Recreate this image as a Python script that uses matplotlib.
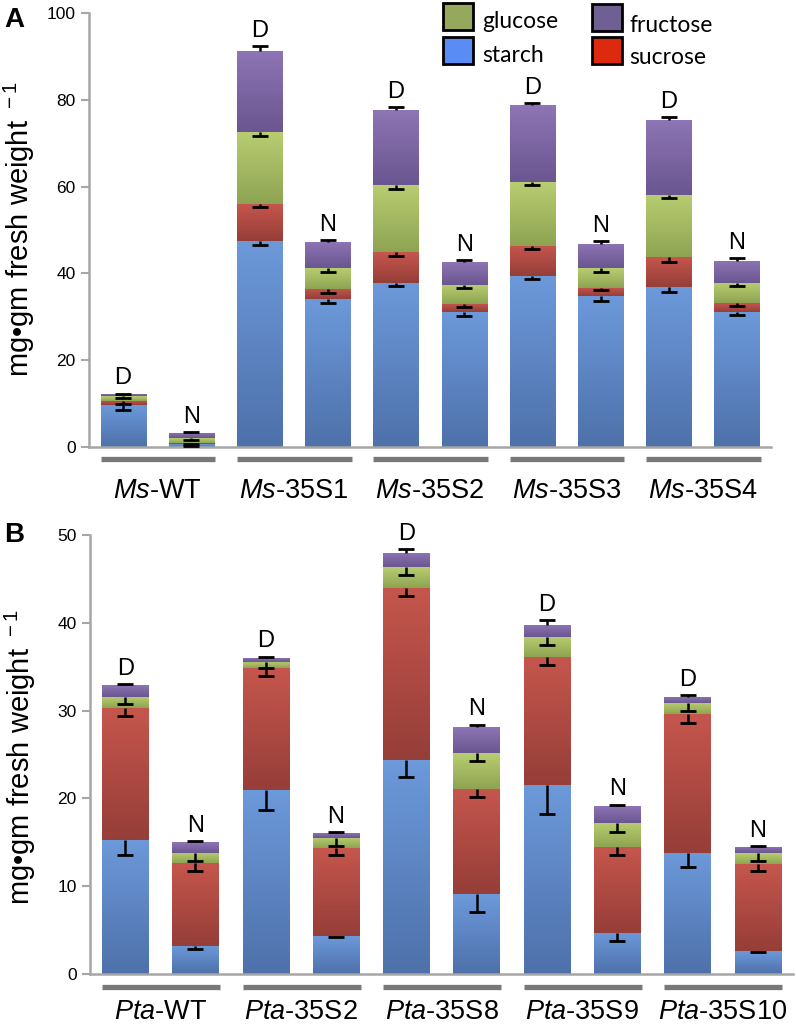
import numpy as np
import matplotlib

matplotlib.use("Agg")
import matplotlib.pyplot as plt
from matplotlib.colors import LinearSegmentedColormap
from matplotlib.patches import Rectangle
from matplotlib.transforms import blended_transform_factory

plt.rcParams["font.family"] = ["Liberation Sans", "DejaVu Sans"]
plt.rcParams["mathtext.fontset"] = "custom"
plt.rcParams["mathtext.rm"] = "Liberation Sans"
plt.rcParams["mathtext.it"] = "Liberation Sans:italic"

# ---- data, panel A (Medicago), bars ordered D, N per line ----
groups_A = ["Ms", "Ms", "Ms", "Ms", "Ms"]
lines_A = ["WT", "35S1", "35S2", "35S3", "35S4"]
starch_A = [9.7, 0.6, 47.5, 34.0, 37.9, 31.0, 39.4, 34.7, 36.8, 31.1]
sucrose_A = [1.0, 0.4, 8.5, 2.5, 7.1, 2.0, 7.0, 2.0, 6.9, 2.0]
glucose_A = [1.0, 1.0, 16.5, 4.7, 15.3, 4.4, 14.7, 4.5, 14.4, 4.7]
fructose_A = [0.5, 1.3, 18.8, 6.1, 17.4, 5.3, 17.6, 5.6, 17.3, 5.1]
starch_err_A = [1.2, 0.3, 0.9, 0.8, 0.8, 0.9, 0.7, 1.0, 1.0, 0.7]
sucrose_err_A = [0.9, 0.3, 0.6, 1.0, 0.9, 0.8, 0.8, 0.6, 1.0, 0.7]
glucose_err_A = [0.5, 0.3, 0.8, 0.9, 0.8, 0.8, 0.8, 0.8, 0.7, 0.8]
fructose_err_A = [0.1, 0.1, 1.0, 0.3, 0.7, 0.3, 0.6, 0.6, 0.7, 0.6]

# ---- data, panel B (Pinus) ----
groups_B = ["Pta", "Pta", "Pta", "Pta", "Pta"]
lines_B = ["WT", "35S2", "35S8", "35S9", "35S10"]
starch_B = [15.3, 3.2, 21.0, 4.3, 24.4, 9.1, 21.55, 4.7, 13.8, 2.6]
sucrose_B = [14.95, 9.4, 13.8, 10.0, 19.6, 12.0, 14.55, 9.75, 15.8, 9.9]
glucose_B = [1.35, 1.2, 0.7, 1.2, 2.3, 4.1, 2.3, 2.75, 1.3, 1.25]
fructose_B = [1.3, 1.2, 0.5, 0.6, 1.6, 2.9, 1.4, 1.9, 0.7, 0.7]
starch_err_B = [1.8, 0.4, 2.3, 0.1, 2.0, 2.0, 3.3, 0.9, 1.6, 0.05]
sucrose_err_B = [0.9, 0.9, 0.9, 0.8, 0.9, 0.9, 0.9, 0.95, 1.0, 0.8]
glucose_err_B = [0.8, 0.9, 0.6, 0.9, 0.9, 0.9, 0.9, 1.0, 0.9, 0.85]
fructose_err_B = [0.15, 0.1, 0.15, 0.1, 0.5, 0.3, 0.5, 0.2, 0.2, 0.1]

letters = ["D", "N"] * 5
sugars = ["starch", "sucrose", "glucose", "fructose"]

# gradient colours per segment (bottom, top)
seg_colors = {
    "starch": ("#4e71aa", "#6c99da"),
    "sucrose": ("#963e38", "#c5564d"),
    "glucose": ("#8ea452", "#b8cd70"),
    "fructose": ("#6a5690", "#8e75b5"),
}
legend_colors = {
    "glucose": "#95a85c",
    "starch": "#5a8cf5",
    "fructose": "#6f5f92",
    "sucrose": "#dd2a0f",
}

W, H = 796, 1027
grad = np.linspace(0, 1, 64).reshape(-1, 1)
BAR_W = 0.66


def draw_panel(ax, layers, errs, groups, lines, ymax, ystep, label_drop, line_drop):
    x = np.arange(len(layers[0]))
    bottom = np.zeros(len(x))
    for k, (name, vals, err) in enumerate(zip(sugars, layers, errs)):
        vals = np.asarray(vals, float)
        err = np.asarray(err, float)
        c0, c1 = seg_colors[name]
        cmap = LinearSegmentedColormap.from_list(name, [c0, c1])
        bars = ax.bar(x, vals, BAR_W, bottom=bottom, color=c0, linewidth=0, zorder=2)
        for b, xi, b0, h in zip(bars, x, bottom, vals):
            im = ax.imshow(grad, extent=(xi - BAR_W / 2, xi + BAR_W / 2, b0, b0 + h),
                           origin="lower", aspect="auto", cmap=cmap, zorder=2,
                           interpolation="bilinear")
            im.set_clip_path(b)
        top = bottom + vals
        # error bars: downward inside stack, upward on the top segment
        end = top + err if k == len(sugars) - 1 else top - err
        ax.vlines(x, np.minimum(top, end), np.maximum(top, end), color="k", lw=1.8, zorder=5)
        ax.plot(x, end, ls="none", marker="_", ms=11, mew=2.0, color="k", zorder=5)
        bottom = top
    for xi, yi, t in zip(x, bottom + np.asarray(errs[-1]), letters):
        ax.annotate(t, (xi, yi), xytext=(0, 3), textcoords="offset points",
                    ha="center", va="bottom", fontsize=17)

    ax.set_xlim(-0.5, len(x) - 0.5)
    ax.set_ylim(0, ymax)
    ax.set_yticks(np.arange(0, ymax + 1, ystep))
    ax.tick_params(axis="y", labelsize=12.5, color="#a6a6a6", width=1.5, length=6)
    ax.set_xticks([])
    for s in ["top", "right"]:
        ax.spines[s].set_visible(False)
    for s in ["left", "bottom"]:
        ax.spines[s].set_color("#a6a6a6")
        ax.spines[s].set_linewidth(1.8)

    tr = blended_transform_factory(ax.transData, ax.transAxes)
    for g, (pre, name) in enumerate(zip(groups, lines)):
        ax.plot([2 * g - 0.33, 2 * g + 1.35], [line_drop, line_drop], color="#787878",
                lw=3.8, solid_capstyle="butt", transform=tr, clip_on=False)
        ax.text(2 * g + 0.5, label_drop, r"$\mathit{%s}$-%s" % (pre, name), transform=tr,
                ha="center", va="center", fontsize=19.5)


fig = plt.figure(figsize=(W / 100, H / 100), dpi=100)
axA = fig.add_axes([89 / W, 1 - 447 / H, 682 / W, 434 / H])
axB = fig.add_axes([90 / W, 1 - 974 / H, 703 / W, 439 / H])

draw_panel(axA, [starch_A, sucrose_A, glucose_A, fructose_A],
           [starch_err_A, sucrose_err_A, glucose_err_A, fructose_err_A],
           groups_A, lines_A, 100, 20, -44 / 434, -12 / 434)
draw_panel(axB, [starch_B, sucrose_B, glucose_B, fructose_B],
           [starch_err_B, sucrose_err_B, glucose_err_B, fructose_err_B],
           groups_B, lines_B, 50, 10, -38 / 439, -13 / 439)

ylab = r"mg$\bullet$gm fresh weight $^{\rm -1}$"
fig.text(19 / W, 1 - 229 / H, "mg\u2022gm fresh weight $^{\\rm -1}$", rotation=90,
         ha="center", va="center", fontsize=21)
fig.text(20 / W, 1 - 757 / H, "mg\u2022gm fresh weight $^{\\rm -1}$", rotation=90,
         ha="center", va="center", fontsize=21)
fig.text(14 / W, 1 - 20 / H, "A", fontsize=20, fontweight="bold", ha="center", va="center")
fig.text(14 / W, 1 - 535 / H, "B", fontsize=20, fontweight="bold", ha="center", va="center")

# legend, 2x2 as in the source figure
legend_items = [
    ("glucose", 443, 3, 482, 22),
    ("starch", 443, 37, 482, 56),
    ("fructose", 592, 4, 629, 26),
    ("sucrose", 592, 37, 629, 57),
]
for name, sx, sy, tx, ty in legend_items:
    fig.add_artist(Rectangle((sx / W, 1 - (sy + 27) / H), 30 / W, 27 / H,
                             transform=fig.transFigure, facecolor=legend_colors[name],
                             edgecolor="k", linewidth=2))
    fig.text(tx / W, 1 - ty / H, name, family=["Lato", "DejaVu Sans"], fontsize=16.5,
             ha="left", va="center")

fig.savefig("out.png", dpi=100)
